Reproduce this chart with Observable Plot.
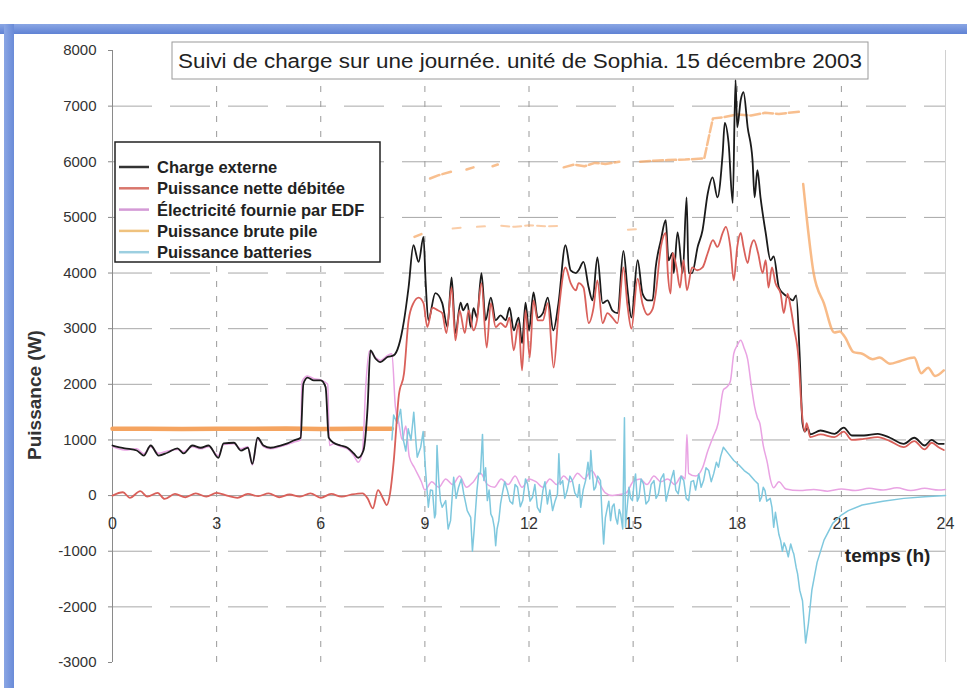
<!DOCTYPE html>
<html>
<head>
<meta charset="utf-8">
<script src="https://cdn.jsdelivr.net/npm/d3@7"></script>
<script src="https://cdn.jsdelivr.net/npm/@observablehq/plot@0.6"></script>
<style>
  html, body { margin: 0; padding: 0; background: #ffffff; }
  #wrap { position: relative; width: 967px; height: 688px; overflow: hidden; background: #fff; }
  #topband { position: absolute; left: 0; top: 24px; width: 967px; height: 10px; background: linear-gradient(#8aa6e4, #5f82d4); }
  #leftband { position: absolute; left: 4px; top: 24px; width: 10px; height: 664px; background: linear-gradient(90deg, #8aa6e4, #6a8bd8); }
  #chart { position: absolute; left: 0; top: 0; }
</style>
</head>
<body>
<div id="wrap">
  <div id="chart"></div>
  <div id="topband"></div>
  <div id="leftband"></div>
</div>
<script>
// ---------- tick labels ----------
const xTicks = [0, 3, 6, 9, 12, 15, 18, 21, 24];
const yTicks = [8000, 7000, 6000, 5000, 4000, 3000, 2000, 1000, 0, -1000, -2000, -3000];
const yGrid = [7000, 6000, 5000, 4000, 3000, 2000, 1000, -1000, -2000];
const xGrid = [3, 6, 9, 12, 15, 18, 21];

const titleText = "Suivi de charge sur une journée. unité de Sophia. 15 décembre 2003";
const seriesNames = ["Charge externe", "Puissance nette débitée", "Électricité fournie par EDF", "Puissance brute pile", "Puissance batteries"];

// ---------- series: [heure, puissance W] ----------
const chargeExterne = [
  [0,900],[0.35,850],[0.7,810],[0.9,720],[1.1,900],[1.33,720],[1.58,770],[1.87,850],[2.05,760],[2.3,900],
  [2.54,860],[2.77,900],[3.05,680],[3.2,940],[3.5,950],[3.7,810],[3.9,860],[4.03,570],[4.18,1040],[4.35,900],
  [4.55,860],[4.84,900],[5.04,940],[5.22,990],[5.42,1040],[5.5,2010],[5.62,2120],[5.8,2070],[6.0,2070],[6.14,1950],
  [6.23,1040],[6.37,950],[6.57,900],[6.77,860],[6.95,760],[7.08,680],[7.23,810],[7.35,1590],[7.43,2610],[7.58,2460],
  [7.72,2400],[7.92,2490],[8.1,2520],[8.25,2700],[8.4,3150],[8.53,3740],[8.67,4500],[8.82,4200],[8.96,4650],[9.02,3870],
  [9.1,3150],[9.3,3640],[9.5,3460],[9.65,3030],[9.77,3920],[9.88,2920],[10.03,3470],[10.1,3330],[10.23,3450],[10.32,3030],
  [10.4,3370],[10.5,3200],[10.63,4000],[10.75,3150],[10.9,3560],[11.04,3150],[11.18,3240],[11.33,3150],[11.44,3380],[11.56,2970],
  [11.7,3200],[11.8,2740],[11.9,3470],[12.0,2970],[12.13,3650],[12.25,3200],[12.4,3280],[12.54,3560],[12.7,2970],[12.85,3460],
  [13.05,4500],[13.2,4050],[13.35,4000],[13.43,4050],[13.57,4200],[13.72,3740],[13.83,3510],[13.97,4280],[14.12,3460],[14.26,3510],
  [14.4,3330],[14.55,3280],[14.72,4400],[14.84,3690],[14.95,3200],[15.13,4230],[15.27,3630],[15.42,3510],[15.56,3510],[15.65,4100],
  [15.8,4590],[15.94,4950],[16.02,4230],[16.14,4360],[16.17,4000],[16.28,4730],[16.43,4000],[16.54,5360],[16.6,4000],[16.7,4000],
  [16.86,4470],[17.0,4770],[17.15,5430],[17.29,5720],[17.43,5360],[17.58,6150],[17.64,6700],[17.75,6340],[17.87,5260],[17.95,7470],
  [18.0,6620],[18.1,7110],[18.18,7250],[18.3,6620],[18.44,6030],[18.5,5360],[18.58,5850],[18.67,5360],[18.82,4720],[18.96,4230],
  [19.05,4300],[19.2,3740],[19.33,3630],[19.48,3560],[19.6,3510],[19.7,3600],[19.8,2500],[19.88,1300],[19.95,1150],[20.03,1220],
  [20.1,1100],[20.4,1170],[20.8,1110],[21.07,1220],[21.3,1080],[21.65,1080],[22.05,1110],[22.4,1040],[22.8,930],[23.1,1040],
  [23.4,900],[23.6,1000],[23.8,930],[23.95,930]
];

const puissanceNette = [
  [0,0],[0.3,60],[0.5,-40],[0.8,80],[1.0,-20],[1.3,50],[1.5,-60],[1.8,30],[2.1,-30],[2.4,40],
  [2.7,-20],[3.0,50],[3.3,0],[3.6,-40],[3.9,30],[4.2,-10],[4.5,40],[4.8,-30],[5.1,20],[5.4,-20],
  [5.7,40],[6.0,-40],[6.3,30],[6.6,-20],[6.9,20],[7.2,40],[7.35,-50],[7.5,-230],[7.65,100],[7.8,-60],
  [7.9,-170],[8.0,50],[8.1,600],[8.25,1800],[8.4,2200],[8.53,3150],[8.67,3460],[8.82,3560],[8.96,3460],[9.07,3030],
  [9.22,3380],[9.37,3330],[9.5,3280],[9.62,2920],[9.77,3740],[9.88,2790],[10.0,3330],[10.15,2920],[10.26,3330],[10.4,2970],
  [10.5,3150],[10.63,3820],[10.78,2660],[10.9,3460],[11.04,3030],[11.18,3100],[11.33,3030],[11.44,3200],[11.56,2610],[11.7,3100],
  [11.8,2250],[11.9,3330],[12.02,2480],[12.13,3510],[12.25,3150],[12.4,3150],[12.54,3460],[12.71,2300],[12.85,3280],[13.05,4100],
  [13.2,3820],[13.35,3690],[13.43,3820],[13.57,3740],[13.72,3100],[13.86,3380],[13.97,3870],[14.12,3100],[14.26,3280],[14.4,3200],
  [14.55,3100],[14.72,4100],[14.84,3400],[14.95,3000],[15.13,3900],[15.27,3450],[15.42,3250],[15.56,3350],[15.65,3630],[15.8,4470],
  [15.94,4720],[16.0,4000],[16.08,3630],[16.14,4360],[16.25,4100],[16.35,3740],[16.45,4230],[16.55,3690],[16.7,4100],[16.85,4050],
  [17.0,4100],[17.15,4360],[17.3,4590],[17.43,4470],[17.58,4720],[17.67,4830],[17.8,4470],[17.9,3870],[18.0,4470],[18.1,4720],
  [18.18,4470],[18.3,4180],[18.39,4470],[18.48,4590],[18.6,4360],[18.73,4000],[18.82,4230],[18.9,3740],[19.0,4100],[19.1,3820],
  [19.25,3630],[19.34,3280],[19.45,3630],[19.54,3380],[19.63,3030],[19.77,2430],[19.85,1600],[19.95,1150],[20.0,1300],[20.1,1050],
  [20.4,1100],[20.8,1050],[21.07,1150],[21.3,1000],[21.65,1020],[22.05,1050],[22.4,980],[22.8,870],[23.1,980],[23.4,830],
  [23.6,950],[23.8,870],[23.95,820]
];

const electriciteEDF = [
  [0,880],[0.35,820],[0.7,840],[0.9,750],[1.1,880],[1.33,760],[1.58,800],[1.87,830],[2.05,790],[2.3,880],
  [2.54,840],[2.77,880],[3.05,720],[3.2,920],[3.5,930],[3.7,840],[3.9,880],[4.03,550],[4.18,1020],[4.35,880],
  [4.55,840],[4.84,880],[5.04,920],[5.22,960],[5.42,1000],[5.46,2050],[5.62,2150],[5.8,2100],[6.0,2080],[6.2,2000],
  [6.25,900],[6.37,930],[6.57,880],[6.77,840],[6.95,720],[7.08,600],[7.2,780],[7.3,2000],[7.4,2600],[7.58,2480],
  [7.72,2430],[7.92,2520],[8.05,2550],[8.15,1600],[8.25,1300],[8.35,1000],[8.45,1250],[8.55,700],[8.7,500],[8.9,250],
  [9.0,100],[9.2,250],[9.4,150],[9.6,300],[9.8,200],[10.0,350],[10.2,150],[10.4,250],[10.6,400],[10.8,200],
  [11.0,150],[11.2,300],[11.4,200],[11.6,350],[11.8,150],[12.0,300],[12.2,250],[12.4,150],[12.6,300],[12.8,200],
  [13.0,350],[13.2,250],[13.4,400],[13.6,300],[13.8,450],[14.0,250],[14.2,50],[14.4,0],[14.6,20],[14.8,50],
  [15.0,250],[15.2,300],[15.4,200],[15.6,350],[15.8,250],[16.0,300],[16.2,200],[16.4,350],[16.5,300],[16.55,1100],
  [16.6,400],[16.8,350],[17.0,500],[17.15,800],[17.3,1050],[17.45,1300],[17.6,1900],[17.7,1950],[17.8,2050],[17.9,2550],
  [18.0,2700],[18.1,2790],[18.2,2650],[18.3,2450],[18.4,2000],[18.5,1600],[18.58,1400],[18.65,1300],[18.75,900],[18.87,580],
  [18.95,300],[19.05,140],[19.2,250],[19.4,120],[19.8,90],[20.2,110],[20.6,80],[21.0,120],[21.4,90],[21.8,130],
  [22.2,100],[22.6,140],[23.0,90],[23.4,130],[23.8,100],[24,110]
];

// Puissance brute pile : plusieurs tronçons (null = interruption)
const pileBase = [[0,1200],[1,1200],[2,1195],[3,1200],[4,1200],[5,1205],[6,1195],[7,1200],[8.05,1200]];
const pileHaut = [
  [8.7,4650],[8.9,4700],[8.95,null],
  [9.15,5700],[9.4,5760],[9.75,5820],[9.8,null],
  [10.2,5860],[10.4,5900],[10.5,null],
  [10.95,5920],[11.1,5950],[11.2,null],
  [13.0,5900],[13.3,5950],[13.6,5920],[13.9,5980],[14.2,5960],[14.6,6000],[14.7,null],
  [15.2,6000],[15.6,6020],[16.0,6030],[16.5,6040],[17.05,6060],[17.2,6500],[17.3,6780],[17.6,6800],[18.0,6850],
  [18.4,6830],[18.8,6880],[19.2,6860],[19.8,6900]
];
const pileBas = [
  [9.8,4800],[10.1,4820],[10.2,null],
  [10.5,4830],[10.75,4840],[10.8,null],
  [11.2,4850],[11.6,4830],[12.0,4860],[12.5,4840],[12.9,4850],[13.0,null],
  [14.85,4780],[15.1,4790]
];
const pileFin = [
  [19.9,5600],[20.0,5000],[20.2,4000],[20.5,3450],[20.8,2930],[20.95,2950],[21.1,2850],[21.35,2580],[21.6,2550],[21.9,2450],
  [22.1,2480],[22.4,2370],[22.7,2420],[23.1,2480],[23.3,2200],[23.5,2300],[23.7,2150],[23.95,2250]
];

const batteries = [
  [8.05,1000],[8.1,1450],[8.2,1300],[8.3,1550],[8.38,1000],[8.45,800],[8.52,1200],[8.6,1000],[8.68,1500],[8.75,900],
  [8.78,690],[8.88,870],[8.95,1150],[9.02,450],[9.1,-210],[9.16,100],[9.22,90],[9.28,-400],[9.31,-330],[9.35,900],
  [9.4,270],[9.45,-100],[9.5,-210],[9.6,-90],[9.67,-600],[9.74,-450],[9.8,100],[9.83,330],[9.9,-50],[9.97,150],
  [10.05,300],[10.12,30],[10.18,-150],[10.22,-270],[10.32,-390],[10.37,-1000],[10.41,-700],[10.5,90],[10.55,400],[10.6,390],
  [10.66,1100],[10.7,270],[10.75,500],[10.8,-90],[10.85,100],[10.9,-330],[10.95,-400],[11.0,-570],[11.04,-900],[11.08,-600],
  [11.13,-450],[11.18,-150],[11.23,30],[11.3,250],[11.38,90],[11.45,-100],[11.53,-150],[11.6,200],[11.67,150],[11.75,-200],
  [11.82,-90],[11.9,300],[11.96,210],[12.03,-100],[12.1,-30],[12.17,200],[12.24,-210],[12.32,-300],[12.4,90],[12.46,250],
  [12.53,-150],[12.6,100],[12.68,-270],[12.75,-100],[12.82,30],[12.86,750],[12.9,200],[12.97,270],[13.03,-50],[13.1,90],
  [13.18,350],[13.25,270],[13.32,50],[13.4,-30],[13.45,200],[13.49,-210],[13.56,100],[13.63,270],[13.7,600],[13.75,300],
  [13.78,810],[13.82,450],[13.87,100],[13.92,150],[13.98,350],[14.06,270],[14.1,-300],[14.15,-870],[14.2,-400],[14.26,-210],
  [14.3,-100],[14.35,-450],[14.4,-200],[14.45,-150],[14.5,-400],[14.55,-510],[14.6,-250],[14.64,-330],[14.7,-600],[14.75,1400],
  [14.78,-570],[14.83,-200],[14.88,150],[14.93,-50],[14.98,-90],[15.03,250],[15.07,390],[15.12,-100],[15.17,-30],[15.23,300],
  [15.3,210],[15.37,-150],[15.45,-90],[15.52,200],[15.6,270],[15.66,-50],[15.73,30],[15.8,300],[15.88,390],[15.95,-100],
  [16.02,90],[16.1,300],[16.17,450],[16.23,100],[16.3,30],[16.38,350],[16.46,270],[16.53,-50],[16.6,-90],[16.67,250],
  [16.74,270],[16.8,100],[16.89,390],[16.96,150],[17.03,270],[17.1,500],[17.18,450],[17.25,250],[17.32,390],[17.4,600],
  [17.46,510],[17.52,700],[17.6,870],[17.75,750],[17.9,630],[18.05,550],[18.2,450],[18.35,380],[18.5,270],[18.6,210],
  [18.65,-100],[18.7,-30],[18.75,150],[18.8,90],[18.85,-100],[18.95,-50],[19.0,-210],[19.05,-570],[19.1,-300],[19.15,-500],
  [19.2,-700],[19.25,-810],[19.3,-1000],[19.35,-850],[19.4,-930],[19.47,-1100],[19.54,-870],[19.6,-1000],[19.63,-1050],[19.7,-1300],
  [19.74,-1410],[19.8,-1700],[19.88,-1890],[19.93,-2300],[19.97,-2650],[20.05,-2300],[20.15,-1700],[20.3,-1200],[20.5,-800],[20.75,-500],
  [21.0,-350],[21.2,-270],[21.6,-170],[22.2,-100],[22.8,-50],[23.4,-20],[24,0]
];

// ---------- chart ----------
const colors = { charge: "#1b1b1b", nette: "#d9605a", edf: "#e9a3e3", pile: "#f5a460", batt: "#7fc8de" };
const line = (data, opts) => Plot.line(data, { x: d => d[0], y: d => d[1], ...opts });

const chart = Plot.plot({
  width: 967,
  height: 688,
  marginLeft: 112,
  marginRight: 22,
  marginTop: 50,
  marginBottom: 26,
  x: { domain: [0, 24], axis: null },
  y: { domain: [-3000, 8000], axis: null },
  style: { background: "transparent", fontFamily: "'Liberation Sans', Arial, sans-serif", color: "#333" },
  marks: [
    Plot.ruleY(yGrid, { stroke: "#a8a8a8", strokeWidth: 1, strokeDasharray: "40,18" }),
    Plot.ruleX(xGrid, { y1: -3000, y2: 8000, stroke: "#9a9a9a", strokeWidth: 1, strokeDasharray: "6,9" }),
    Plot.ruleX([24], { y1: -3000, y2: 8000, stroke: "#d0d0d0", strokeWidth: 1 }),
    Plot.ruleY([0], { stroke: "#a0a0a0", strokeWidth: 1 }),
    Plot.ruleX([0], { y1: -3000, y2: 8000, stroke: "#8a8a8a", strokeWidth: 1 }),
    Plot.axisY(yTicks, { tickSize: 4, tickPadding: 12, fontSize: 15, tickFormat: d => String(d), label: null, stroke: "#888", color: "#333" }),
    Plot.text(xTicks, { x: d => d, y: 0, dy: 28, text: d => String(d), fontSize: 16, fill: "#333" }),
    Plot.text(["temps (h)"], { x: 21.1, y: -1080, text: d => d, textAnchor: "start", fontSize: 19, fontWeight: "bold", fill: "#222" }),
    line(pileBase, { stroke: colors.pile, strokeWidth: 4.5 }),
    line(pileHaut, { stroke: colors.pile, strokeWidth: 2.5, strokeOpacity: 0.7, strokeDasharray: "10,3" }),
    line(pileBas, { stroke: colors.pile, strokeWidth: 2, strokeOpacity: 0.55, strokeDasharray: "8,4" }),
    line(pileFin, { stroke: colors.pile, strokeWidth: 2.5, strokeOpacity: 0.75, curve: "monotone-x" }),
    line(electriciteEDF, { stroke: colors.edf, strokeWidth: 1.5, curve: "monotone-x" }),
    line(batteries, { stroke: colors.batt, strokeWidth: 1.5 }),
    line(chargeExterne, { stroke: colors.charge, strokeWidth: 1.8, curve: "monotone-x" }),
    line(puissanceNette, { stroke: colors.nette, strokeWidth: 1.8, curve: "monotone-x" })
  ]
});

document.getElementById("chart").appendChild(chart);

// ---------- title box, legend, y label ----------
const svg = d3.select(chart);
const FONT = "'Liberation Sans', Arial, sans-serif";

const tg = svg.append("g");
tg.append("rect").attr("x", 172).attr("y", 42).attr("width", 696).attr("height", 37)
  .attr("fill", "#fff").attr("stroke", "#9a9a9a").attr("stroke-width", 1);
tg.append("text").attr("x", 178).attr("y", 68).attr("text-anchor", "start")
  .attr("font-family", FONT).attr("font-size", 20).attr("fill", "#222")
  .attr("textLength", 684).attr("lengthAdjust", "spacingAndGlyphs")
  .text(titleText);

const lg = svg.append("g");
lg.append("rect").attr("x", 115).attr("y", 142).attr("width", 265).attr("height", 120)
  .attr("fill", "#fff").attr("stroke", "#222").attr("stroke-width", 1.5);
const legendColors = ["#333333", "#d9766c", "#d49ad6", "#efc27e", "#9ccfe0"];
seriesNames.forEach((name, i) => {
  const yy = 167 + i * 21.3;
  lg.append("line").attr("x1", 119).attr("x2", 149).attr("y1", yy).attr("y2", yy)
    .attr("stroke", legendColors[i]).attr("stroke-width", 2.5);
  lg.append("text").attr("x", 157).attr("y", yy + 6).attr("text-anchor", "start")
    .attr("font-family", FONT).attr("font-size", 16.5).attr("font-weight", "bold").attr("fill", "#222")
    .text(name);
});

svg.append("text").attr("transform", "translate(41,395) rotate(-90)").attr("text-anchor", "middle")
  .attr("font-family", FONT).attr("font-size", 19).attr("font-weight", "bold").attr("fill", "#333")
  .text("Puissance (W)");
</script>
</body>
</html>
